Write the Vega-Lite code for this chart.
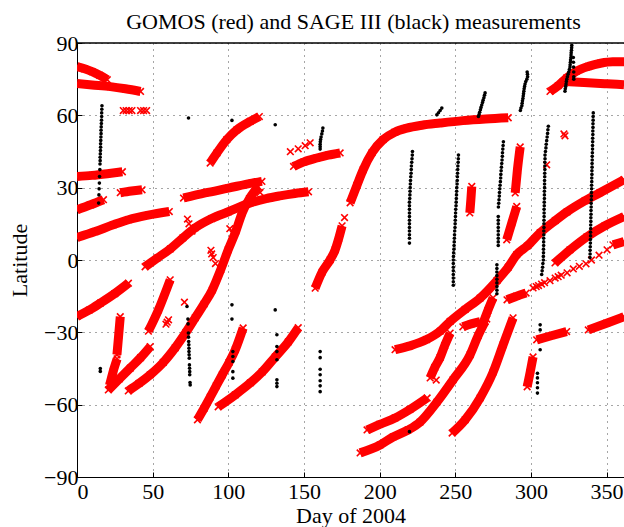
{
 "$schema": "https://vega.github.io/schema/vega-lite/v6.json",
 "width": 547, "height": 434,
 "autosize": {"type": "none"},
 "padding": {"left": 77, "top": 43, "right": 0, "bottom": 50},
 "title": {"text": "GOMOS (red) and SAGE III (black) measurements", "font": "Liberation Serif", "fontSize": 22, "fontWeight": "normal", "color": "#000", "anchor": "middle", "offset": -2, "dx": 3},
 "config": {
  "view": {"stroke": null},
  "axis": {"labelFont": "Liberation Serif", "labelFontSize": 22, "labelColor": "#000", "titleFont": "Liberation Serif", "titleFontSize": 22, "titleFontWeight": "normal", "titleColor": "#000", "domainColor": "#000", "domainWidth": 1, "tickColor": "#000", "tickSize": -5, "gridColor": "#000", "gridDash": [1, 5], "gridOpacity": 0.7, "gridWidth": 1}
 },
 "datasets": {
  "frame": [{"lat": 90}],
  "gomos": [
   {"track":"A","day":0,"lat":80.2},{"track":"A","day":5,"lat":79.3},{"track":"A","day":10,"lat":78.1},{"track":"A","day":15,"lat":76.6},{"track":"A","day":20,"lat":74.8},
   {"track":"B","day":0,"lat":73.2},{"track":"B","day":10,"lat":72.6},{"track":"B","day":22,"lat":71.9},{"track":"B","day":32,"lat":71},{"track":"B","day":42,"lat":69.9},
   {"track":"D","day":0,"lat":34.6},{"track":"D","day":10,"lat":35.1},{"track":"D","day":20,"lat":35.8},{"track":"D","day":30,"lat":36.6},
   {"track":"E","day":28.6,"lat":27.9},{"track":"E","day":36,"lat":28.6},{"track":"E","day":43,"lat":29.1},
   {"track":"F","day":0,"lat":20.8},{"track":"F","day":9,"lat":22.9},{"track":"F","day":17.5,"lat":25},
   {"track":"G","day":0,"lat":9.3},{"track":"G","day":12,"lat":11.8},{"track":"G","day":24,"lat":14.6},{"track":"G","day":34,"lat":16.7},{"track":"G","day":47,"lat":18.6},{"track":"G","day":61,"lat":20.1},
   {"track":"H","day":70.4,"lat":25.7},{"track":"H","day":84.7,"lat":27.8},{"track":"H","day":100,"lat":29.8},{"track":"H","day":115.6,"lat":31.9},{"track":"H","day":122.2,"lat":32.6},
   {"track":"I","day":88,"lat":40.2},{"track":"I","day":92.5,"lat":44.4},{"track":"I","day":99,"lat":49.9},{"track":"I","day":105.7,"lat":54},{"track":"I","day":114.5,"lat":57.5},{"track":"I","day":120.5,"lat":59.5},
   {"track":"J1","day":0,"lat":-23.4},{"track":"J1","day":8,"lat":-20.8},{"track":"J1","day":15.4,"lat":-17.9},{"track":"J1","day":25,"lat":-13.9},{"track":"J1","day":34,"lat":-9.6},
   {"track":"J2","day":45,"lat":-2.8},{"track":"J2","day":53,"lat":0.8},{"track":"J2","day":61.6,"lat":4.6},{"track":"J2","day":70,"lat":9.2},{"track":"J2","day":78,"lat":13.3},{"track":"J2","day":89,"lat":17.2},{"track":"J2","day":100,"lat":20},{"track":"J2","day":114.5,"lat":23.7},{"track":"J2","day":125,"lat":25.5},{"track":"J2","day":134,"lat":26.6},{"track":"J2","day":144,"lat":27.6},{"track":"J2","day":153,"lat":28.3},
   {"track":"K","day":26.4,"lat":-39.3},{"track":"K","day":27.5,"lat":-31.5},{"track":"K","day":28.6,"lat":-23.5},
   {"track":"L","day":20.7,"lat":-53.9},{"track":"L","day":28,"lat":-49.3},{"track":"L","day":35.2,"lat":-44.8},{"track":"L","day":42,"lat":-40.5},{"track":"L","day":48.4,"lat":-35.9},
   {"track":"L2","day":21.5,"lat":-52},{"track":"L2","day":24,"lat":-46},{"track":"L2","day":26.5,"lat":-41},
   {"track":"M","day":33.9,"lat":-54.3},{"track":"M","day":41,"lat":-51.2},{"track":"M","day":48.4,"lat":-47.6},{"track":"M","day":57,"lat":-42.5},{"track":"M","day":64.9,"lat":-36.4},{"track":"M","day":72,"lat":-30},{"track":"M","day":78.1,"lat":-24},{"track":"M","day":84,"lat":-18.2},{"track":"M","day":89.4,"lat":-12.4},{"track":"M","day":95,"lat":-4},{"track":"M","day":99.9,"lat":4.2},{"track":"M","day":105,"lat":12},{"track":"M","day":109.2,"lat":19.6},{"track":"M","day":114,"lat":25.5},{"track":"M","day":119.8,"lat":30.4},
   {"track":"N","day":47.2,"lat":-29.5},{"track":"N","day":53.8,"lat":-20.7},{"track":"N","day":61.6,"lat":-8.2},
   {"track":"P","day":79.6,"lat":-66.3},{"track":"P","day":84,"lat":-61.5},{"track":"P","day":88.1,"lat":-56.8},{"track":"P","day":92,"lat":-52.2},{"track":"P","day":96,"lat":-47.6},{"track":"P","day":100.5,"lat":-42.5},{"track":"P","day":104.6,"lat":-37.2},{"track":"P","day":109.8,"lat":-28.2},
   {"track":"Q","day":93.3,"lat":-60.9},{"track":"Q","day":104.6,"lat":-55.9},{"track":"Q","day":114.5,"lat":-51},{"track":"Q","day":122.4,"lat":-46.4},{"track":"Q","day":131,"lat":-40.2},{"track":"Q","day":139.6,"lat":-34},{"track":"Q","day":146.2,"lat":-28.1},
   {"track":"T1","day":157.4,"lat":-11.7},{"track":"T1","day":162,"lat":-5},{"track":"T1","day":167.3,"lat":0.1},{"track":"T1","day":170.6,"lat":4.2},{"track":"T1","day":173,"lat":9},{"track":"T1","day":175.2,"lat":14.2},
   {"track":"T2","day":180.5,"lat":23.7},{"track":"T2","day":185,"lat":31},{"track":"T2","day":189.1,"lat":37.4},{"track":"T2","day":195,"lat":44.5},{"track":"T2","day":202.3,"lat":49.9},{"track":"T2","day":210,"lat":53},{"track":"T2","day":218,"lat":54.7},{"track":"T2","day":228,"lat":55.9},{"track":"T2","day":240,"lat":56.8},{"track":"T2","day":255,"lat":57.8},{"track":"T2","day":270,"lat":58.5},{"track":"T2","day":285,"lat":59},
   {"track":"BA","day":143.1,"lat":38.8},{"track":"BA","day":150,"lat":40.7},{"track":"BA","day":158.5,"lat":42.3},{"track":"BA","day":166,"lat":43.5},{"track":"BA","day":173.9,"lat":44.4},
   {"track":"W","day":187.1,"lat":-80},{"track":"W","day":200.3,"lat":-76.7},{"track":"W","day":208.9,"lat":-73.4},{"track":"W","day":218.8,"lat":-70.5},{"track":"W","day":226.7,"lat":-67.2},{"track":"W","day":237.9,"lat":-58.9},{"track":"W","day":248.5,"lat":-49.7},{"track":"W","day":259.8,"lat":-39.3},{"track":"W","day":265.1,"lat":-31.4},{"track":"W","day":269.7,"lat":-25.6},
   {"track":"V","day":191.7,"lat":-70.5},{"track":"V","day":200,"lat":-68.2},{"track":"V","day":210.2,"lat":-65.5},{"track":"V","day":220,"lat":-62},{"track":"V","day":231.4,"lat":-57.2},
   {"track":"X","day":247.9,"lat":-71.8},{"track":"X","day":256.5,"lat":-66.3},{"track":"X","day":266.4,"lat":-57.2},{"track":"X","day":275,"lat":-46.5},{"track":"X","day":281.6,"lat":-35.2},{"track":"X","day":288.2,"lat":-24},
   {"track":"AF","day":233.4,"lat":-48.9},{"track":"AF","day":236.5,"lat":-44.5},{"track":"AF","day":240,"lat":-40.4},{"track":"AF","day":243,"lat":-35.5},{"track":"AF","day":246.6,"lat":-30.3},
   {"track":"Y","day":210.2,"lat":-37.2},{"track":"Y","day":220,"lat":-35.6},{"track":"Y","day":231,"lat":-33},{"track":"Y","day":240,"lat":-29.5},{"track":"Y","day":246.6,"lat":-25.5},{"track":"Y","day":256.5,"lat":-20.5},{"track":"Y","day":266.4,"lat":-15.8},{"track":"Y","day":277.6,"lat":-8.5},{"track":"Y","day":285,"lat":-3},{"track":"Y","day":290.6,"lat":2.2},{"track":"Y","day":297.5,"lat":5.8},{"track":"Y","day":306.1,"lat":11.3},{"track":"Y","day":316,"lat":16.3},{"track":"Y","day":323.9,"lat":20},{"track":"Y","day":335.8,"lat":24.6},{"track":"Y","day":345.6,"lat":27.9},{"track":"Y","day":361.5,"lat":33.3},
   {"track":"Z2","day":315.9,"lat":-1.2},{"track":"Z2","day":325.8,"lat":4.2},{"track":"Z2","day":337,"lat":9.6},{"track":"Z2","day":348.9,"lat":14.2},{"track":"Z2","day":361.5,"lat":18},
   {"track":"Z4","day":354.2,"lat":6.3},{"track":"Z4","day":361.5,"lat":7.6},
   {"track":"AA","day":312.6,"lat":69.9},{"track":"AA","day":318,"lat":72.3},{"track":"AA","day":323.6,"lat":75.5},{"track":"AA","day":330,"lat":78.3},{"track":"AA","day":338,"lat":80.3},{"track":"AA","day":346,"lat":81.6},{"track":"AA","day":354,"lat":82.2},{"track":"AA","day":361.5,"lat":82.2},
   {"track":"AB","day":321.4,"lat":74},{"track":"AB","day":335,"lat":73.6},{"track":"AB","day":350,"lat":73.1},{"track":"AB","day":361.5,"lat":72.7},
   {"track":"AC","day":259.6,"lat":19.5},{"track":"AC","day":260.3,"lat":25},{"track":"AC","day":260.9,"lat":30.5},
   {"track":"AD","day":289.6,"lat":27.8},{"track":"AD","day":291,"lat":37},{"track":"AD","day":292.9,"lat":46.9},
   {"track":"AE","day":284,"lat":8.4},{"track":"AE","day":287.3,"lat":15.3},{"track":"AE","day":290.6,"lat":22.2},
   {"track":"SB1","day":255,"lat":-27.7},{"track":"SB1","day":260.5,"lat":-26.5},{"track":"SB1","day":266.4,"lat":-25.6},
   {"track":"SB2","day":268.4,"lat":-26.1},{"track":"SB2","day":271.5,"lat":-21},{"track":"SB2","day":275,"lat":-15.7},
   {"track":"SB3","day":284.2,"lat":-16.5},{"track":"SB3","day":290.5,"lat":-15},{"track":"SB3","day":296.8,"lat":-13.7},
   {"track":"SB4","day":297.5,"lat":-52.6},{"track":"SB4","day":299.5,"lat":-46.5},{"track":"SB4","day":301.4,"lat":-40.2},
   {"track":"SB5","day":303.8,"lat":-33.1},{"track":"SB5","day":314,"lat":-31.3},{"track":"SB5","day":323.6,"lat":-29.7},
   {"track":"SB6","day":337.9,"lat":-29},{"track":"SB6","day":350,"lat":-26.2},{"track":"SB6","day":361.5,"lat":-23.5}
  ],
  "gomos_scattered": [
   {"day":30.6,"lat":62},{"day":32.5,"lat":62},{"day":34.5,"lat":62},{"day":36.3,"lat":62},{"day":42,"lat":62},{"day":44,"lat":62},{"day":46,"lat":62},
   {"day":141,"lat":44.9},{"day":146.2,"lat":46.1},{"day":150.8,"lat":47.4},{"day":154.1,"lat":48.6},
   {"day":301.4,"lat":-11.6},{"day":303.5,"lat":-11},{"day":305,"lat":-10.6},{"day":307,"lat":-10},{"day":309,"lat":-9.4},{"day":312.6,"lat":-8.6},{"day":316,"lat":-7.5},{"day":318,"lat":-6.9},{"day":320,"lat":-6.3},{"day":323.9,"lat":-5.3},{"day":328,"lat":-3.7},{"day":332,"lat":-2.6},{"day":336.4,"lat":-1.6},{"day":340,"lat":0},{"day":345,"lat":2},{"day":350.3,"lat":4.2},
   {"day":71,"lat":-17.5},{"day":59.6,"lat":-25.8},{"day":60.5,"lat":-24.8},{"day":58.8,"lat":-26.6},{"day":176.8,"lat":17.6},{"day":237.4,"lat":-49.8},{"day":270.8,"lat":-24.5},{"day":322.5,"lat":51.5},{"day":321.8,"lat":52.3},{"day":310.4,"lat":39.5},
   {"day":88.5,"lat":4},{"day":90,"lat":1},{"day":91.5,"lat":-1.5},{"day":89,"lat":2.5},{"day":74,"lat":15},{"day":76,"lat":12},{"day":73,"lat":17},{"day":101,"lat":13},{"day":103,"lat":11},{"day":118,"lat":30},{"day":121,"lat":28}
  ],
  "sage": [
   {"day":16.5,"lat":64},{"day":16.4,"lat":62.5},{"day":16.3,"lat":61},{"day":16.3,"lat":59.5},{"day":16.2,"lat":58},{"day":16.1,"lat":56.6},{"day":16,"lat":55.2},{"day":15.9,"lat":53.8},{"day":15.9,"lat":52.4},{"day":15.8,"lat":51},{"day":15.7,"lat":49.6},{"day":15.6,"lat":48.2},{"day":15.6,"lat":46.8},{"day":15.5,"lat":45.4},{"day":15.4,"lat":44},{"day":15.3,"lat":42.6},{"day":15.3,"lat":41.2},{"day":15.2,"lat":39.8},{"day":15.1,"lat":37.5},{"day":14.9,"lat":34.6},{"day":14.8,"lat":31.9},{"day":14.6,"lat":29.5},{"day":14.5,"lat":27},{"day":14.3,"lat":23.6},
   {"day":15.4,"lat":-45},{"day":15.4,"lat":-46.2},
   {"day":73.7,"lat":58.9},{"day":102.4,"lat":57.9},{"day":131,"lat":56.1},
   {"day":72.7,"lat":-19.3},{"day":73.3,"lat":-24.5},{"day":73.4,"lat":-26.5},{"day":73.6,"lat":-30.3},{"day":73.7,"lat":-32},{"day":73.8,"lat":-33.8},{"day":73.9,"lat":-35.2},{"day":74,"lat":-36.6},{"day":74,"lat":-38},{"day":74.1,"lat":-39.3},{"day":74.2,"lat":-40.7},{"day":74.3,"lat":-43.5},{"day":74.4,"lat":-44.9},{"day":74.5,"lat":-46.3},{"day":74.5,"lat":-47.6},{"day":74.7,"lat":-50.8},{"day":74.8,"lat":-51.8},
   {"day":102.4,"lat":-18.6},{"day":102.4,"lat":-24.5},{"day":103,"lat":-38},{"day":103,"lat":-40},{"day":103,"lat":-42.1},{"day":103,"lat":-46.3},{"day":103,"lat":-49},
   {"day":131,"lat":-20.7},{"day":132.1,"lat":-31},{"day":132.1,"lat":-35.9},{"day":132.1,"lat":-38},{"day":132.1,"lat":-41.4},{"day":132.1,"lat":-49.7},{"day":132.1,"lat":-51.1},{"day":132.1,"lat":-52.5},
   {"day":160.7,"lat":-38},{"day":160.7,"lat":-40.5},{"day":160.7,"lat":-45.3},{"day":160.7,"lat":-47.6},{"day":160.7,"lat":-50.1},{"day":160.7,"lat":-52.2},{"day":160.7,"lat":-54.6},
   {"day":162.5,"lat":54.7},{"day":162.2,"lat":53.5},{"day":161.8,"lat":52.3},{"day":161.3,"lat":51},{"day":161,"lat":50},{"day":160.8,"lat":49},{"day":160.7,"lat":48},{"day":160.7,"lat":47},{"day":160.7,"lat":46},
   {"day":221.7,"lat":45},{"day":221.6,"lat":43.5},{"day":221.4,"lat":42},{"day":221.2,"lat":40.5},{"day":221,"lat":39},{"day":220.9,"lat":37.5},{"day":220.8,"lat":36},{"day":220.6,"lat":34.5},{"day":220.4,"lat":33},{"day":220.3,"lat":31.5},{"day":220.2,"lat":30},{"day":220.1,"lat":28.5},{"day":220,"lat":27},{"day":219.9,"lat":25.5},{"day":219.7,"lat":24},{"day":219.7,"lat":22.5},{"day":219.7,"lat":21},{"day":219.7,"lat":19.5},{"day":219.7,"lat":18},{"day":219.7,"lat":16.5},{"day":219.7,"lat":15},{"day":219.7,"lat":13.5},{"day":219.7,"lat":12},{"day":219.7,"lat":10.5},{"day":219.7,"lat":9},{"day":219.7,"lat":7},
   {"day":219.7,"lat":-71.2},
   {"day":241.1,"lat":63},{"day":240,"lat":62},{"day":238.9,"lat":61.1},{"day":237.8,"lat":60.2},
   {"day":269.7,"lat":69.3},{"day":269.3,"lat":68.3},{"day":268.9,"lat":67.3},{"day":268.4,"lat":66.3},{"day":268,"lat":65.3},{"day":267.5,"lat":64.3},{"day":267,"lat":63.3},{"day":266.6,"lat":62.3},{"day":266.1,"lat":61.3},{"day":265.7,"lat":60.3},{"day":265.3,"lat":59.5},
   {"day":252.1,"lat":43.5},{"day":252,"lat":42},{"day":251.9,"lat":40.5},{"day":251.7,"lat":39},{"day":251.6,"lat":37.5},{"day":251.5,"lat":36},{"day":251.4,"lat":34.5},{"day":251.3,"lat":33},{"day":251.2,"lat":31.5},{"day":251,"lat":30},{"day":250.9,"lat":28.5},{"day":250.8,"lat":27},{"day":250.7,"lat":25.5},{"day":250.6,"lat":24},{"day":250.5,"lat":22.5},{"day":250.3,"lat":21},{"day":250.2,"lat":19.5},{"day":250.1,"lat":18},{"day":250,"lat":16.5},{"day":249.9,"lat":15},{"day":249.8,"lat":13.5},{"day":249.6,"lat":12},{"day":249.5,"lat":10.5},{"day":249.4,"lat":9},{"day":249.3,"lat":7.5},{"day":249.2,"lat":6},{"day":249.1,"lat":4.5},{"day":248.9,"lat":3},{"day":248.8,"lat":1.5},{"day":248.7,"lat":0},{"day":248.7,"lat":-1.5},{"day":248.7,"lat":-3},{"day":248.7,"lat":-4.5},{"day":248.7,"lat":-6},{"day":248.7,"lat":-7.5},{"day":248.7,"lat":-9},{"day":248.7,"lat":-10.5},
   {"day":281.8,"lat":49},{"day":281.6,"lat":47.5},{"day":281.4,"lat":46},{"day":281.2,"lat":44.5},{"day":281.1,"lat":43},{"day":280.9,"lat":41.5},{"day":280.7,"lat":40},{"day":280.5,"lat":38.5},{"day":280.3,"lat":37},{"day":280.1,"lat":35.5},{"day":280,"lat":34},{"day":279.8,"lat":32.5},{"day":279.6,"lat":31},{"day":279.4,"lat":29.5},{"day":279.2,"lat":28},{"day":279.1,"lat":26.5},{"day":278.9,"lat":25},{"day":278.7,"lat":23.5},{"day":278.5,"lat":22},
   {"day":278.4,"lat":18},{"day":278.4,"lat":16.5},{"day":278.4,"lat":15},{"day":278.4,"lat":13.5},{"day":278.4,"lat":12},{"day":278.4,"lat":10.5},{"day":278.4,"lat":9},{"day":278.4,"lat":7.5},{"day":278.4,"lat":6},
   {"day":277.5,"lat":-2},{"day":277.5,"lat":-3.5},{"day":277.5,"lat":-5},{"day":277.5,"lat":-6.5},{"day":277.5,"lat":-8},{"day":277.5,"lat":-9.5},{"day":277.5,"lat":-11},{"day":277.5,"lat":-12.5},{"day":277.5,"lat":-14},
   {"day":297.5,"lat":78},{"day":297.7,"lat":77},{"day":297.8,"lat":76},{"day":297.3,"lat":75},{"day":296.6,"lat":74},{"day":296.1,"lat":73},{"day":295.8,"lat":72},{"day":295.5,"lat":71},{"day":295.3,"lat":70},{"day":295.1,"lat":69},{"day":294.9,"lat":68},{"day":294.7,"lat":67},{"day":294.4,"lat":66},{"day":294.2,"lat":65},{"day":294,"lat":64},{"day":293.4,"lat":63},{"day":293,"lat":62},
   {"day":311.5,"lat":55.5},{"day":311.2,"lat":54},{"day":311,"lat":52.5},{"day":310.7,"lat":51},{"day":310.4,"lat":49.5},{"day":310.1,"lat":48},{"day":309.9,"lat":46.5},{"day":309.6,"lat":45},{"day":309.3,"lat":43.5},{"day":309.3,"lat":42},{"day":309.2,"lat":40.5},{"day":309.2,"lat":39},{"day":309.2,"lat":37.5},{"day":309.1,"lat":36},{"day":309.1,"lat":34.5},{"day":309,"lat":33},{"day":309,"lat":31.5},{"day":309,"lat":30},{"day":308.9,"lat":28.5},{"day":308.9,"lat":27},{"day":308.9,"lat":25.5},{"day":308.8,"lat":24},{"day":308.8,"lat":22.5},{"day":308.7,"lat":21},{"day":308.7,"lat":19.5},{"day":308.7,"lat":18},{"day":308.6,"lat":16.5},{"day":308.6,"lat":15},{"day":308.6,"lat":13.5},{"day":308.5,"lat":12},{"day":308.5,"lat":10.5},{"day":308.4,"lat":9},{"day":308.4,"lat":7.5},{"day":308.4,"lat":6},{"day":308.3,"lat":4.5},{"day":308.3,"lat":3},{"day":308.2,"lat":1.5},{"day":308.2,"lat":0},{"day":307.9,"lat":-1.5},{"day":307.7,"lat":-3},{"day":307.4,"lat":-4.5},{"day":307.1,"lat":-6},
   {"day":306.1,"lat":-26.9},{"day":306.1,"lat":-29},{"day":306.1,"lat":-37.2},{"day":304.3,"lat":-47},{"day":304.3,"lat":-48.9},{"day":304.3,"lat":-50.9},{"day":304.3,"lat":-53},{"day":304.3,"lat":-55.2},
   {"day":327,"lat":89},{"day":326.9,"lat":88},{"day":326.8,"lat":87},{"day":326.6,"lat":86},{"day":326.5,"lat":85},{"day":326.4,"lat":84},{"day":326.2,"lat":83},{"day":326.1,"lat":82},{"day":325.9,"lat":81},{"day":325.8,"lat":80},{"day":325.4,"lat":79},{"day":325,"lat":78},{"day":324.5,"lat":77},{"day":324.1,"lat":76},{"day":323.7,"lat":75},{"day":323.4,"lat":74},{"day":323.2,"lat":73},{"day":323,"lat":72},{"day":322.7,"lat":71},{"day":322.5,"lat":70},
   {"day":328,"lat":84},{"day":328.1,"lat":82},{"day":328.2,"lat":80},{"day":328.3,"lat":78},{"day":328.3,"lat":76},{"day":328.3,"lat":75},
   {"day":341.2,"lat":61},{"day":341.1,"lat":59.5},{"day":341.1,"lat":58},{"day":341,"lat":56.5},{"day":341,"lat":55},{"day":340.9,"lat":53.5},{"day":340.9,"lat":52},{"day":340.8,"lat":50.5},{"day":340.8,"lat":49},{"day":340.7,"lat":47.5},{"day":340.7,"lat":46},{"day":340.6,"lat":44.5},{"day":340.5,"lat":43},{"day":340.5,"lat":41.5},{"day":340.4,"lat":40},{"day":340.4,"lat":38.5},{"day":340.3,"lat":37},{"day":340.3,"lat":35.5},{"day":340.2,"lat":34},{"day":340.2,"lat":32.5},{"day":340.1,"lat":31},{"day":340.1,"lat":29.5},{"day":340,"lat":28},{"day":340,"lat":26.5},{"day":339.9,"lat":25},{"day":339.8,"lat":23.5},{"day":339.8,"lat":22},{"day":339.7,"lat":20.5},{"day":339.7,"lat":19},{"day":339.6,"lat":17.5},{"day":339.6,"lat":16},{"day":339.5,"lat":14.5},{"day":339.5,"lat":13},{"day":339.4,"lat":11.5},{"day":339.4,"lat":10},{"day":339.3,"lat":8.5},{"day":339.3,"lat":7},{"day":339.2,"lat":5.5},{"day":339.1,"lat":4},{"day":339.1,"lat":2.5},{"day":339,"lat":1}
  ]
 },
 "layer": [
  {
   "data": {"name": "gomos"},
   "mark": {"type": "line", "color": "#ff0000", "strokeWidth": 9, "interpolate": "monotone", "clip": true, "strokeCap": "butt"},
   "encoding": {
    "x": {"field": "day", "type": "quantitative", "scale": {"domain": [0, 361.5], "nice": false, "zero": false}, "axis": {"orient": "bottom", "values": [0, 50, 100, 150, 200, 250, 300, 350], "title": "Day of 2004", "labelPadding": 9, "titlePadding": 3, "grid": true}},
    "y": {"field": "lat", "type": "quantitative", "scale": {"domain": [-90, 90], "nice": false, "zero": false}, "axis": {"values": [-90, -60, -30, 0, 30, 60, 90], "title": "Latitude", "labelPadding": 4, "titlePadding": 12, "grid": true}},
    "detail": {"field": "track", "type": "nominal"}
   }
  },
  {
   "data": {"name": "gomos"},
   "mark": {"type": "point", "shape": "M-1,-1L1,1M1,-1L-1,1", "filled": false, "color": "#ff0000", "size": 44, "strokeWidth": 1.6, "opacity": 1, "clip": true},
   "encoding": {
    "x": {"field": "day", "type": "quantitative"},
    "y": {"field": "lat", "type": "quantitative"}
   }
  },
  {
   "data": {"name": "gomos_scattered"},
   "mark": {"type": "point", "shape": "M-1,-1L1,1M1,-1L-1,1", "filled": false, "color": "#ff0000", "size": 44, "strokeWidth": 1.6, "opacity": 1, "clip": true},
   "encoding": {
    "x": {"field": "day", "type": "quantitative"},
    "y": {"field": "lat", "type": "quantitative"}
   }
  },
  {
   "data": {"name": "sage"},
   "mark": {"type": "circle", "color": "#000", "size": 13, "opacity": 1, "clip": true},
   "encoding": {
    "x": {"field": "day", "type": "quantitative"},
    "y": {"field": "lat", "type": "quantitative"}
   }
  },
  {
   "data": {"name": "frame"},
   "mark": {"type": "rule", "color": "#000", "strokeWidth": 1.3},
   "encoding": {
    "y": {"field": "lat", "type": "quantitative"}
   }
  }
 ]
}
